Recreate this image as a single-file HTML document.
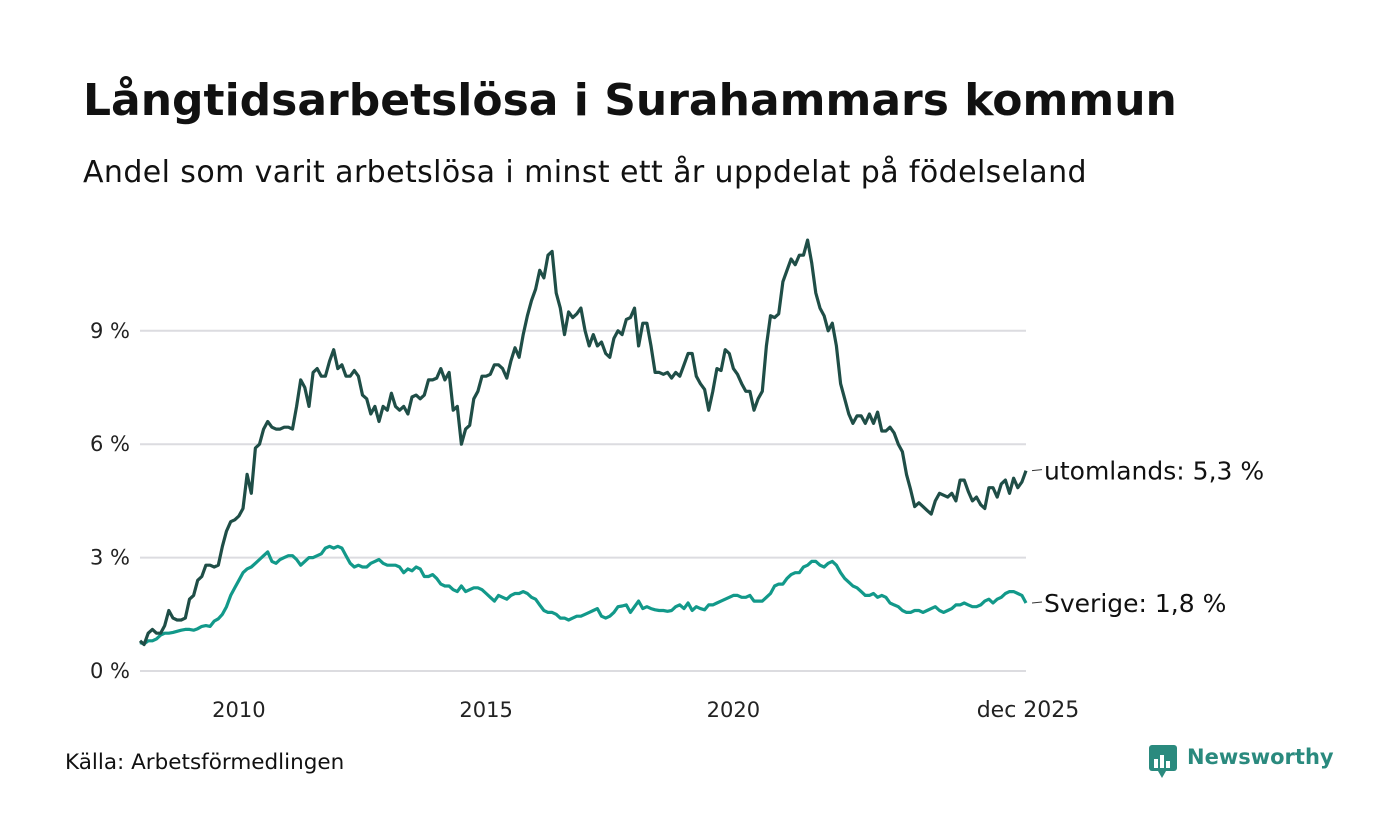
<!DOCTYPE html>
<html><head><meta charset="utf-8"><style>
body{margin:0;background:#fff;font-family:"DejaVu Sans","Liberation Sans",sans-serif;}
#root{position:relative;width:1400px;height:840px;overflow:hidden;background:#fff;}
h1{position:absolute;left:83px;top:75px;margin:0;font-size:44px;font-weight:bold;color:#111;white-space:nowrap;}
.sub{position:absolute;left:83px;top:155px;font-size:30px;color:#111;letter-spacing:0.4px;white-space:nowrap;}
.src{position:absolute;left:65px;top:750px;font-size:21.5px;color:#111;white-space:nowrap;}
</style></head><body>
<div id="root">
<h1>Långtidsarbetslösa i Surahammars kommun</h1>
<div class="sub">Andel som varit arbetslösa i minst ett år uppdelat på födelseland</div>
<svg id="svg" width="1400" height="840" style="position:absolute;left:0;top:0;font-family:'DejaVu Sans','Liberation Sans',sans-serif"></svg>
<div class="src">Källa: Arbetsförmedlingen</div>
<div style="position:absolute;left:1148px;top:744px;height:34px;">
<svg width="30" height="36" style="position:absolute;left:0;top:0"><rect x="1" y="1" width="28" height="26" rx="3" fill="#2a8a7e"/><polygon points="10,27 18,27 14,34" fill="#2a8a7e"/><rect x="6" y="15" width="4" height="9" fill="#fff"/><rect x="12" y="11" width="4" height="13" fill="#fff"/><rect x="18" y="17" width="4" height="7" fill="#fff"/></svg>
<span style="position:absolute;left:39px;top:1px;font-size:21px;font-weight:bold;color:#2a8a7e;white-space:nowrap;">Newsworthy</span></div>
</div>
<script>
const years=[2010,2015,2020];
const yTicks=[0,3,6,9];
const yTickLabels=["0 %","3 %","6 %","9 %"];
const utomlands=[
0.8,0.7,1.0,1.1,1.0,1.0,1.2,1.6,1.4,1.35,1.35,1.4,
1.9,2.0,2.4,2.5,2.8,2.8,2.75,2.8,3.3,3.7,3.95,4.0,
4.1,4.3,5.2,4.7,5.9,6.0,6.4,6.6,6.45,6.4,6.4,6.45,
6.45,6.4,7.0,7.7,7.5,7.0,7.9,8.0,7.8,7.8,8.2,8.5,
8.0,8.1,7.8,7.8,7.95,7.8,7.3,7.2,6.8,7.0,6.6,7.0,
6.9,7.35,7.0,6.9,7.0,6.8,7.25,7.3,7.2,7.3,7.7,7.7,
7.75,8.0,7.7,7.9,6.9,7.0,6.0,6.4,6.5,7.2,7.4,7.8,
7.8,7.85,8.1,8.1,8.0,7.75,8.2,8.55,8.3,8.9,9.4,9.8,
10.1,10.6,10.4,11.0,11.1,10.0,9.6,8.9,9.5,9.35,9.45,9.6,
9.0,8.6,8.9,8.6,8.7,8.4,8.3,8.8,9.0,8.9,9.3,9.35,
9.6,8.6,9.2,9.2,8.6,7.9,7.9,7.85,7.9,7.75,7.9,7.8,
8.1,8.4,8.4,7.8,7.6,7.45,6.9,7.4,8.0,7.95,8.5,8.4,
8.0,7.85,7.6,7.4,7.4,6.9,7.2,7.4,8.6,9.4,9.35,9.45,
10.3,10.6,10.9,10.75,11.0,11.0,11.4,10.8,10.0,9.6,9.4,9.0,
9.2,8.6,7.6,7.2,6.8,6.55,6.75,6.75,6.55,6.8,6.55,6.85,
6.35,6.35,6.45,6.3,6.0,5.8,5.2,4.8,4.35,4.45,4.35,4.25,
4.15,4.5,4.7,4.65,4.6,4.7,4.5,5.05,5.05,4.75,4.5,4.6,
4.4,4.3,4.85,4.85,4.6,4.95,5.05,4.7,5.1,4.85,5.0,5.3];
const sverige=[
0.75,0.72,0.8,0.8,0.85,0.95,1.0,1.0,1.02,1.05,1.08,1.1,
1.1,1.08,1.12,1.18,1.2,1.18,1.32,1.38,1.5,1.7,2.0,2.2,
2.4,2.6,2.7,2.75,2.85,2.95,3.05,3.15,2.9,2.85,2.95,3.0,
3.05,3.05,2.95,2.8,2.9,3.0,3.0,3.05,3.1,3.25,3.3,3.25,
3.3,3.25,3.05,2.85,2.75,2.8,2.75,2.75,2.85,2.9,2.95,2.85,
2.8,2.8,2.8,2.75,2.6,2.7,2.65,2.75,2.7,2.5,2.5,2.55,
2.45,2.3,2.25,2.25,2.15,2.1,2.25,2.1,2.15,2.2,2.2,2.15,
2.05,1.95,1.85,2.0,1.95,1.9,2.0,2.05,2.05,2.1,2.05,1.95,
1.9,1.75,1.6,1.55,1.55,1.5,1.4,1.4,1.35,1.4,1.45,1.45,
1.5,1.55,1.6,1.65,1.45,1.4,1.45,1.55,1.7,1.72,1.75,1.55,
1.7,1.85,1.65,1.7,1.65,1.62,1.6,1.6,1.58,1.6,1.7,1.75,
1.65,1.8,1.6,1.7,1.65,1.62,1.75,1.75,1.8,1.85,1.9,1.95,
2.0,2.0,1.95,1.95,2.0,1.85,1.85,1.85,1.95,2.05,2.25,2.3,
2.3,2.45,2.55,2.6,2.6,2.75,2.8,2.9,2.9,2.8,2.75,2.85,
2.9,2.8,2.6,2.45,2.35,2.25,2.2,2.1,2.0,2.0,2.05,1.95,
2.0,1.95,1.8,1.75,1.7,1.6,1.55,1.55,1.6,1.6,1.55,1.6,
1.65,1.7,1.6,1.55,1.6,1.65,1.75,1.75,1.8,1.75,1.7,1.7,
1.75,1.85,1.9,1.8,1.9,1.95,2.05,2.1,2.1,2.05,2.0,1.8];
const seriesLabels=["utomlands","Sverige"];
const NS="http://www.w3.org/2000/svg";
const svg=document.getElementById('svg');
const X0=140,X1=1026,Y0=671,PX=37.8;
const n=utomlands.length;
function xIdx(i){return X0+(X1-X0)*i/(n-1);}
function xYear(y){return X0+(X1-X0)*((y-2008)*12)/(n-1);}
function yv(v){return Y0-v*PX;}
function mk(t,a,txt){const e=document.createElementNS(NS,t);for(const k in a)e.setAttribute(k,a[k]);if(txt!==undefined)e.textContent=txt;svg.appendChild(e);return e;}
yTicks.forEach((t,i)=>{
 const l=mk('line',{x1:X0,x2:1026,y1:yv(t),y2:yv(t),stroke:'#dcdce0','stroke-width':2});
 
 
 const tx=mk('text',{x:130,y:yv(t)+7,'text-anchor':'end','font-size':21,fill:'#222'},yTickLabels[i]);
 
 
});
years.forEach(y=>{
 const tx=mk('text',{x:xYear(y),y:717,'text-anchor':'middle','font-size':21,fill:'#222'},String(y));
 
 
});
const lastT=mk('text',{x:X1+2,y:717,'text-anchor':'middle','font-size':22,fill:'#222'},'dec 2025');


function draw(arr,color,name,label){
 let d='';arr.forEach((v,i)=>{d+=(i?'L':'M')+xIdx(i).toFixed(1)+','+yv(v).toFixed(1);});
 const p=mk('path',{d:d,fill:'none',stroke:color,'stroke-width':3.2,'stroke-linejoin':'round'});
 
 
 const last=arr[arr.length-1];const ly=yv(last);
 const ld=mk('line',{x1:X1+6,x2:X1+16,y1:ly,y2:ly-1,stroke:'#333','stroke-width':1});
 
 
 const t=mk('text',{x:X1+18,y:ly+9,'font-size':25,fill:'#111'},label+': '+last.toFixed(1).replace('.',',')+' %');
 
 
}
draw(sverige,'#12998a','sverige',seriesLabels[1]);
draw(utomlands,'#1f4e47','utomlands',seriesLabels[0]);
</script>
</body></html>
